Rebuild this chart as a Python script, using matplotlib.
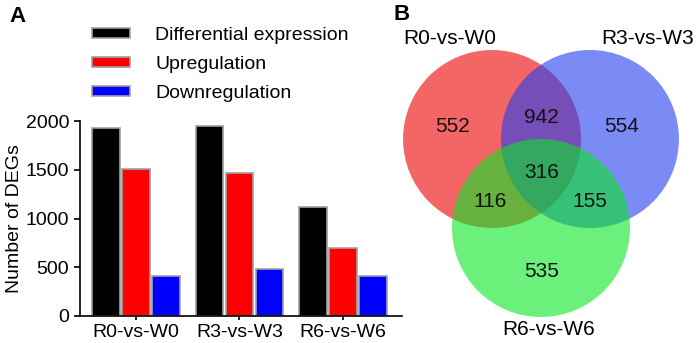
import numpy as np
import matplotlib.pyplot as plt
from matplotlib.patches import Circle

plt.rcParams["font.family"] = ["Liberation Sans", "DejaVu Sans"]

# --------------------------------------------------
# data
# --------------------------------------------------
groups = ["R0-vs-W0", "R3-vs-W3", "R6-vs-W6"]
series = ["Differential expression", "Upregulation", "Downregulation"]
diff_expr = [1928, 1952, 1115]
up_reg = [1505, 1463, 694]
down_reg = [413, 482, 410]
bar_colors = ["#000000", "#ff0000", "#0000ff"]

venn_sets = ["R0-vs-W0", "R3-vs-W3", "R6-vs-W6"]
# only R0, only R3, R0&R3, all three, R0&R6, R3&R6, only R6
venn_counts = [552, 554, 942, 316, 116, 155, 535]

FS = 14
FS_VENN = 15

# --------------------------------------------------
# figure
# --------------------------------------------------
W, H = 697, 343
fig = plt.figure(figsize=(W / 100, H / 100), dpi=100)

# panel A: grouped bars
ax = fig.add_axes([80 / W, 1 - 316 / H, 322 / W, 195 / H])
x = np.arange(len(groups))
width = 0.265
offsets = [-0.29, 0, 0.29]
for vals, off, col, lab in zip([diff_expr, up_reg, down_reg], offsets,
                               bar_colors, series):
    ax.bar(x + off, vals, width, color=col, edgecolor="#a0a0a0",
           linewidth=1.2, label=lab)

ax.set_xlim(-0.54, 2.57)
ax.set_ylim(0, 2000)
ax.set_yticks([0, 500, 1000, 1500, 2000])
ax.set_xticks(x)
ax.set_xticklabels(groups)
ax.spines["top"].set_visible(False)
ax.spines["right"].set_visible(False)
for s in ("left", "bottom"):
    ax.spines[s].set_linewidth(1.2)
ax.tick_params(axis="y", direction="out", length=4.3, width=1.2,
               labelsize=FS, pad=3.5)
ax.tick_params(axis="x", direction="out", length=3, width=1.2,
               labelsize=FS, pad=3)
ax.set_ylabel("Number of DEGs", fontsize=FS)
ax.yaxis.set_label_coords(-0.178, 0.5)

ax.legend(loc="upper left", bbox_to_anchor=(92 / W, 1 - 27 / H),
          bbox_transform=fig.transFigure, frameon=False, fontsize=FS,
          borderpad=0, borderaxespad=0, handlelength=1.95, handleheight=0.36,
          handletextpad=1.3, labelspacing=0.62)

fig.text(17 / W, 1 - 16 / H, "A", fontsize=16, fontweight="bold",
         ha="center", va="center")

# panel B: three-set Venn
r = 1.0
px = 89.0  # pixels per unit radius
cx, cy = 541, 183.5
vx = fig.add_axes([360 / W, 0, 337 / W, 1])
vx.set_xlim((360 - cx) / px, (697 - cx) / px)
vx.set_ylim((cy - 343) / px, cy / px)
vx.axis("off")

centers = [(-0.55, 0.5), (0.55, 0.5), (0.0, -0.5)]
circle_colors = [(237 / 255, 0, 0), (35 / 255, 62 / 255, 240 / 255),
                 (10 / 255, 230 / 255, 37 / 255)]
for c, col in zip(centers, circle_colors):
    vx.add_patch(Circle(c, r, facecolor=col, alpha=0.6, edgecolor="none"))

label_pos = [(-1.02, 1.624), (1.2, 1.624), (0.09, -1.646)]
for (lx, ly), name in zip(label_pos, venn_sets):
    vx.text(lx, ly, name, fontsize=FS_VENN, ha="center", va="center")

count_pos = [(-0.99, 0.635), (0.91, 0.635), (0.0, 0.747), (0.01, 0.129),
             (-0.573, -0.197), (0.55, -0.197), (0.01, -0.994)]
for (tx, ty), n in zip(count_pos, venn_counts):
    vx.text(tx, ty, str(n), fontsize=FS_VENN, ha="center", va="center",
            color="#111111")

fig.text(402 / W, 1 - 15 / H, "B", fontsize=16, fontweight="bold",
         ha="center", va="center")

fig.savefig("out.png", dpi=100)
